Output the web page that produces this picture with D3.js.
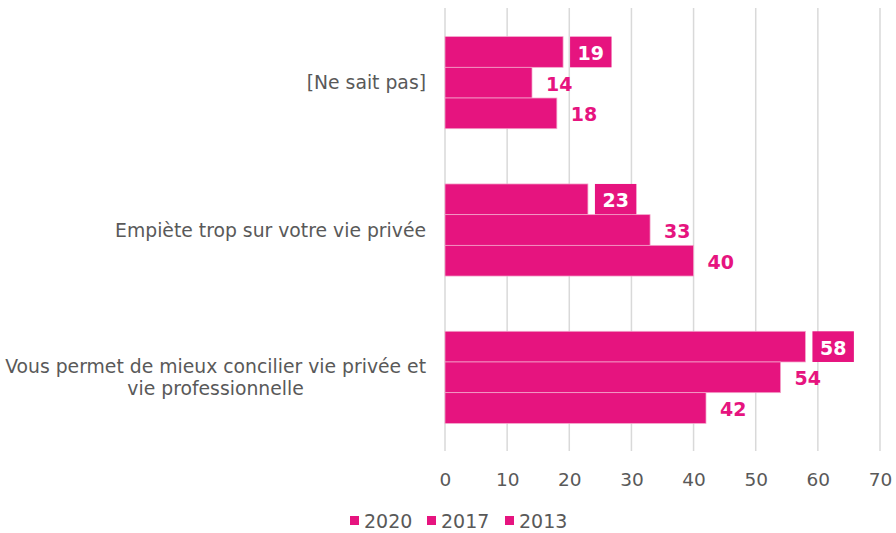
<!DOCTYPE html>
<html>
<head>
<meta charset="utf-8">
<script src="https://cdn.jsdelivr.net/npm/d3@7"></script>
<style>
  html, body { margin: 0; padding: 0; background: #fff; }
  svg { display: block; }
</style>
</head>
<body>
<script>
const categories = ["[Ne sait pas]", "Empiète trop sur votre vie privée", "Vous permet de mieux concilier vie privée et\nvie professionnelle"];
const seriesNames = ["2020", "2017", "2013"];
const values2020 = [19, 23, 58];
const values2017 = [14, 33, 54];
const values2013 = [18, 40, 42];
const xTicks = [0, 10, 20, 30, 40, 50, 60, 70];

const W = 896, H = 533;
const color = "#E6147F";
const textColor = "#595959";
const font = "DejaVu Sans, Verdana, sans-serif";

const svg = d3.select("body").append("svg").attr("width", W).attr("height", H);

const x = d3.scaleLinear().domain([0, 70]).range([445, 880]);
const y0 = d3.scaleBand().domain(categories).range([9, 451]).paddingInner(0.375).paddingOuter(0.1875);
const y1 = d3.scaleBand().domain(seriesNames).range([0, y0.bandwidth()]);

const seriesValues = [values2020, values2017, values2013];

// gridlines
svg.append("g").selectAll("line").data(xTicks).join("line")
  .attr("x1", d => x(d)).attr("x2", d => x(d))
  .attr("y1", 8).attr("y2", 451)
  .attr("stroke", "#d9d9d9").attr("stroke-width", 1.5);

// x axis labels
const xAxis = d3.axisBottom(x).tickValues(xTicks).tickSize(0).tickPadding(0);
const gx = svg.append("g").attr("transform", "translate(0,486)").call(xAxis);
gx.select(".domain").remove();
gx.selectAll("text").attr("font-family", font).attr("font-size", 18.5).attr("fill", textColor).attr("dy", 0);

// bars
categories.forEach((c, ci) => {
  seriesNames.forEach((s, si) => {
    const v = seriesValues[si][ci];
    const by = y0(c) + y1(s);
    const bh = y1.bandwidth();
    svg.append("rect")
      .attr("x", x(0)).attr("y", by)
      .attr("width", x(v) - x(0)).attr("height", bh)
      .attr("fill", color).attr("stroke", "#f4a6cb").attr("stroke-width", 0.75);
    const cy = by + bh / 2;
    if (si === 0) {
      const t = svg.append("text")
        .attr("font-family", font).attr("font-size", 19).attr("font-weight", "bold")
        .attr("fill", "#fff").attr("dominant-baseline", "central")
        .text(v);
      const tw = t.node().getComputedTextLength();
      const bx = x(v) + 7;
      svg.insert("rect", () => t.node())
        .attr("x", bx).attr("y", by).attr("width", tw + 15).attr("height", bh)
        .attr("fill", color);
      t.attr("x", bx + 7.5).attr("y", cy + 1);
    } else {
      svg.append("text")
        .attr("x", x(v) + 14).attr("y", cy + 1)
        .attr("font-family", font).attr("font-size", 19).attr("font-weight", "bold")
        .attr("fill", color).attr("dominant-baseline", "central")
        .text(v);
    }
  });
});

// category labels
categories.forEach(c => {
  const lines = c.split("\n");
  const cy = y0(c) + y0.bandwidth() / 2;
  const lh = 22;
  const g = svg.append("g");
  const texts = lines.map((ln, i) => g.append("text")
    .attr("font-family", font).attr("font-size", 18.8).attr("fill", textColor)
    .attr("dominant-baseline", "central")
    .attr("y", cy + (i - (lines.length - 1) / 2) * lh)
    .text(ln));
  const maxW = d3.max(texts, t => t.node().getComputedTextLength());
  const right = 426;
  texts.forEach(t => t.attr("text-anchor", "middle").attr("x", right - maxW / 2));
});

// legend
const legendX = [350, 427, 505];
seriesNames.forEach((s, i) => {
  svg.append("rect").attr("x", legendX[i]).attr("y", 516).attr("width", 9).attr("height", 9).attr("fill", color);
  svg.append("text").attr("x", legendX[i] + 14).attr("y", 521)
    .attr("font-family", font).attr("font-size", 19).attr("fill", textColor)
    .attr("dominant-baseline", "central").text(s);
});
</script>
</body>
</html>
